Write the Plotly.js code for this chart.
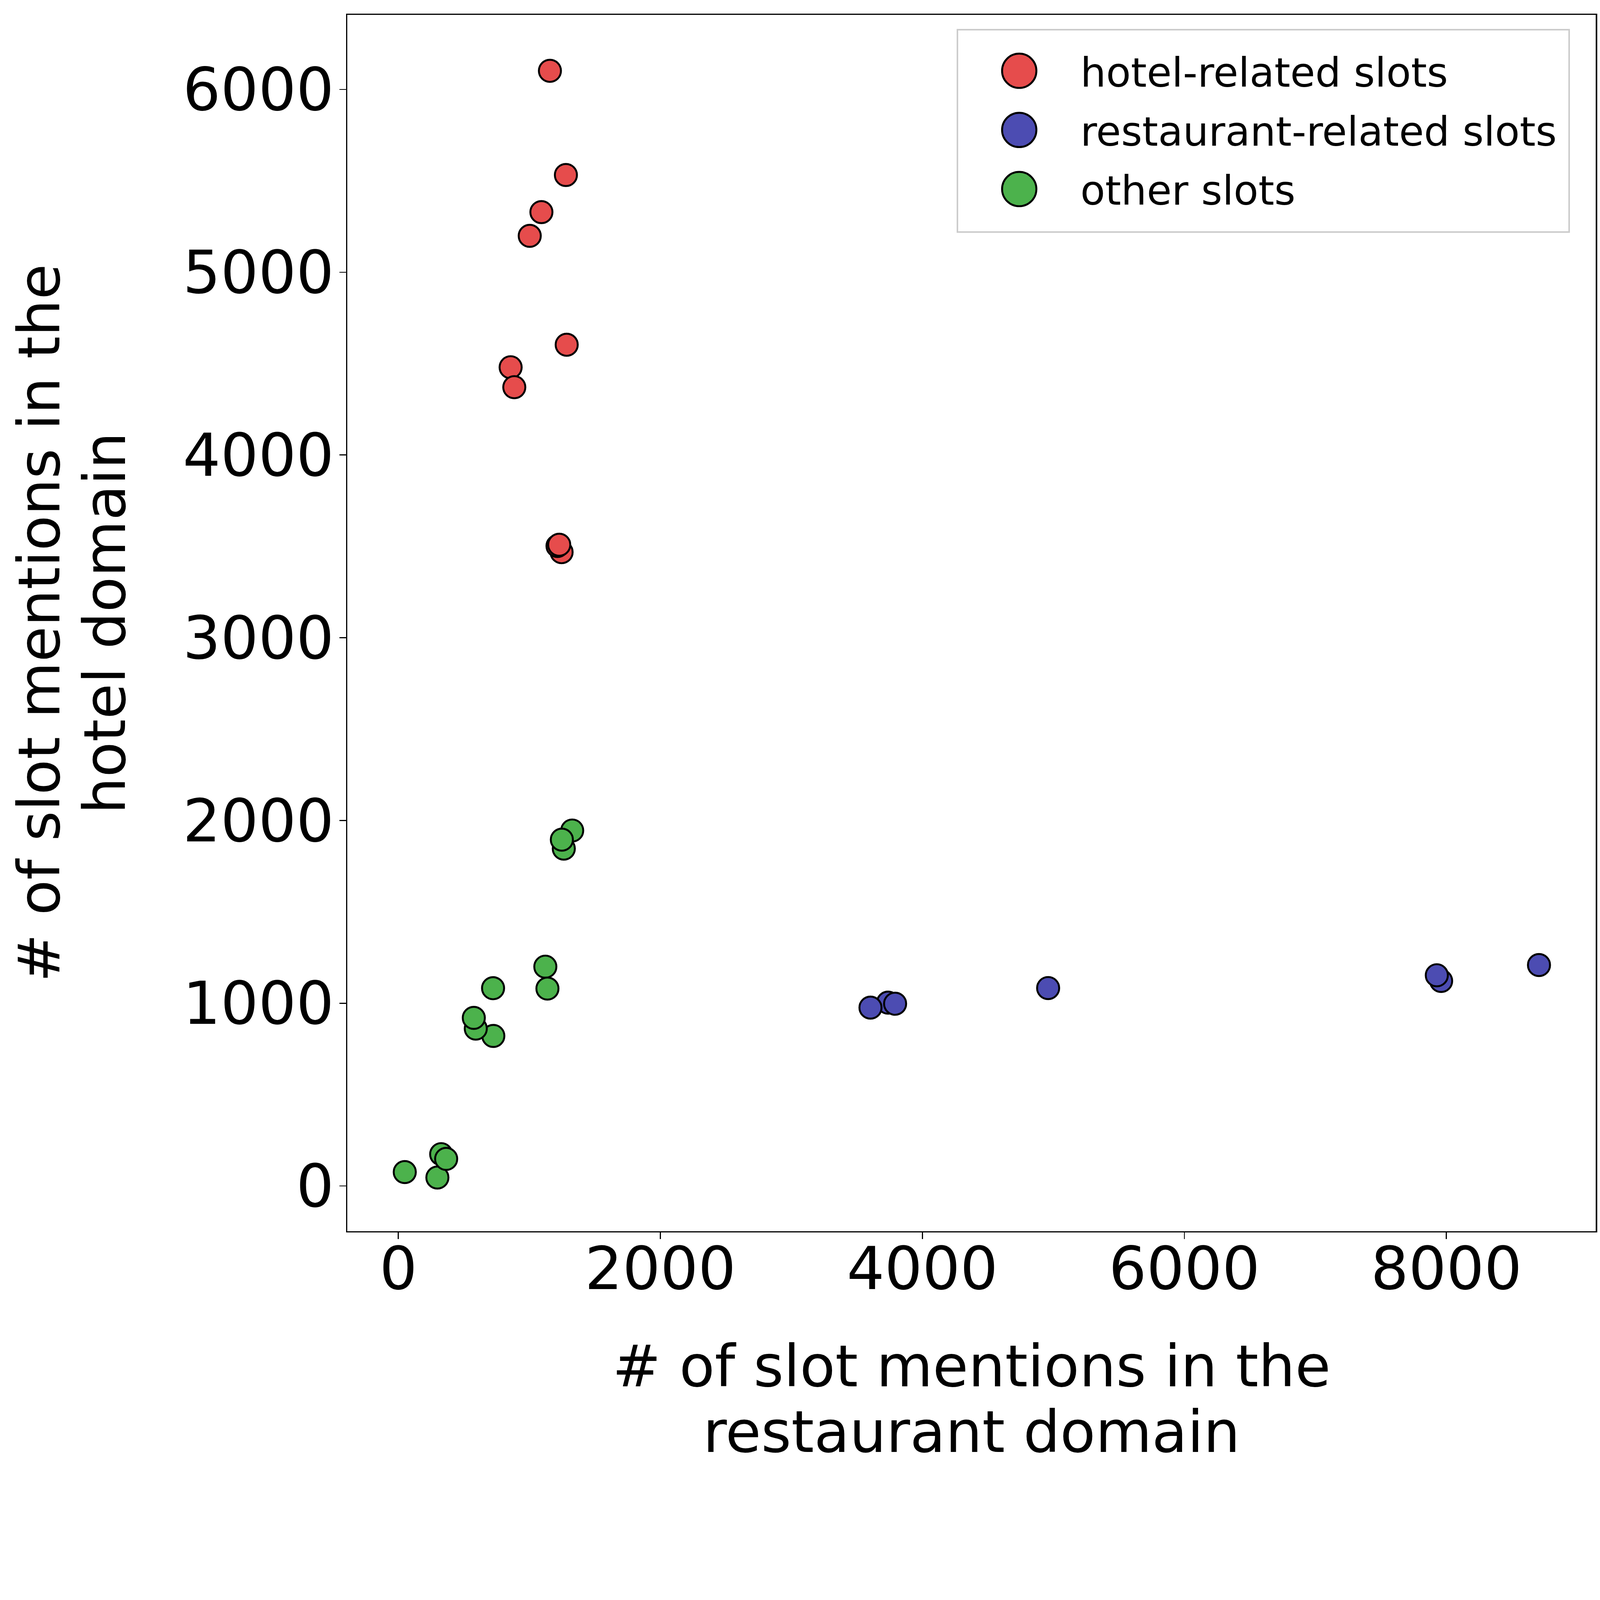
<!DOCTYPE html>
<html>
<head>
<meta charset="utf-8">
<script src="https://cdn.plot.ly/plotly-3.0.1.min.js"></script>
<style>
html,body{margin:0;padding:0;background:#ffffff;overflow:hidden;}
#wrap{width:100vw;height:100vh;overflow:hidden;position:relative;background:#ffffff;}
#chart{width:746px;height:683px;transform-origin:0 0;}
</style>
</head>
<body>
<div id="wrap"><div id="chart"></div></div>
<script>
// ---- data ----
const seriesNames = ["hotel-related slots", "restaurant-related slots", "other slots"];
const seriesColors = ["#e64c4c", "#4c4cb2", "#4cb24c"];

const hotelX = [1157, 1279, 1092, 1003, 1285, 857, 885, 1246, 1215, 1228];
const hotelY = [6102, 5532, 5329, 5199, 4603, 4480, 4371, 3468, 3502, 3509];

const restaurantX = [3738, 3792, 3604, 4960, 7960, 7927, 8707];
const restaurantY = [1003, 997, 976, 1083, 1122, 1153, 1209];

const otherX = [1327, 1263, 1248, 1122, 1138, 723, 725, 591, 576, 327, 298, 365, 49];
const otherY = [1945, 1846, 1895, 1200, 1080, 1082, 821, 861, 920, 174, 46, 148, 76];

const xTickVals = [0, 2000, 4000, 6000, 8000];
const yTickVals = [0, 1000, 2000, 3000, 4000, 5000, 6000];

const xTitleLines = ["# of slot mentions in the", "restaurant domain"];
const yTitleLines = ["# of slot mentions in the", "hotel domain"];

// ---- chart ----
const BASE_W = 746, BASE_H = 683;
const vw = document.documentElement.clientWidth || window.innerWidth;
const vh = document.documentElement.clientHeight || window.innerHeight;
const S = Math.min(vw / BASE_W, vh / BASE_H);
document.getElementById("chart").style.transform = "scale(" + S + ")";

const FONT = "DejaVu Sans, Liberation Sans, sans-serif";
const TITLE_SIZE = 27;
function titleText(lines) {
  return lines.map(function (l) {
    return '<span style="font-size:' + TITLE_SIZE + 'px">' + l + '</span>';
  }).join("<br>");
}

const xsList = [hotelX, restaurantX, otherX];
const ysList = [hotelY, restaurantY, otherY];

const data = [];
// data traces (markers in the plot)
for (let i = 0; i < 3; i++) {
  data.push({
    type: "scatter", mode: "markers", name: seriesNames[i],
    x: xsList[i], y: ysList[i], legendgroup: "g" + i, showlegend: false,
    marker: {size: 10.3, color: seriesColors[i], line: {color: "#000000", width: 0.9}},
    hoverinfo: "skip"
  });
}
// legend entries (larger legend symbols, like the reference)
for (let i = 0; i < 3; i++) {
  data.push({
    type: "scatter", mode: "markers", name: seriesNames[i],
    x: [null], y: [null], legendgroup: "g" + i, showlegend: true,
    marker: {size: 16, color: seriesColors[i], line: {color: "#000000", width: 0.9}},
    hoverinfo: "skip"
  });
}

const axisCommon = {
  showgrid: false, zeroline: false, showline: true, mirror: true,
  linecolor: "#000000", linewidth: 0.65,
  ticks: "outside", ticklen: 3.1, tickwidth: 0.5, tickcolor: "#000000",
  tickfont: {family: FONT, size: 27.7, color: "#000000"},
  automargin: false
};

const layout = {
  width: BASE_W, height: BASE_H,
  margin: {l: 162, r: 2.3, t: 7.2, b: 109.3, pad: 0},
  paper_bgcolor: "#ffffff", plot_bgcolor: "#ffffff",
  font: {family: FONT, color: "#000000"},
  showlegend: true,
  legend: {
    x: 0.488, y: 0.9885, xanchor: "left", yanchor: "top",
    bgcolor: "#ffffff", bordercolor: "#cccccc", borderwidth: 0.7,
    font: {family: FONT, size: 18.9, color: "#000000"},
    itemwidth: 47, itemsizing: "trace", tracegroupgap: 0
  },
  xaxis: Object.assign({}, axisCommon, {
    range: [-388.5, 9140], tickvals: xTickVals, ticktext: xTickVals.map(String),
    ticklabelstandoff: -10,
    title: {text: titleText(xTitleLines), font: {family: FONT, size: 23.6, color: "#000000"}, standoff: 28}
  }),
  yaxis: Object.assign({}, axisCommon, {
    range: [-247, 6407.5], tickvals: yTickVals, ticktext: yTickVals.map(String),
    ticklabelstandoff: -3,
    title: {text: titleText(yTitleLines), font: {family: FONT, size: 23.6, color: "#000000"}, standoff: 19}
  })
};

Plotly.newPlot("chart", data, layout, {staticPlot: true, displayModeBar: false});
</script>
</body>
</html>
